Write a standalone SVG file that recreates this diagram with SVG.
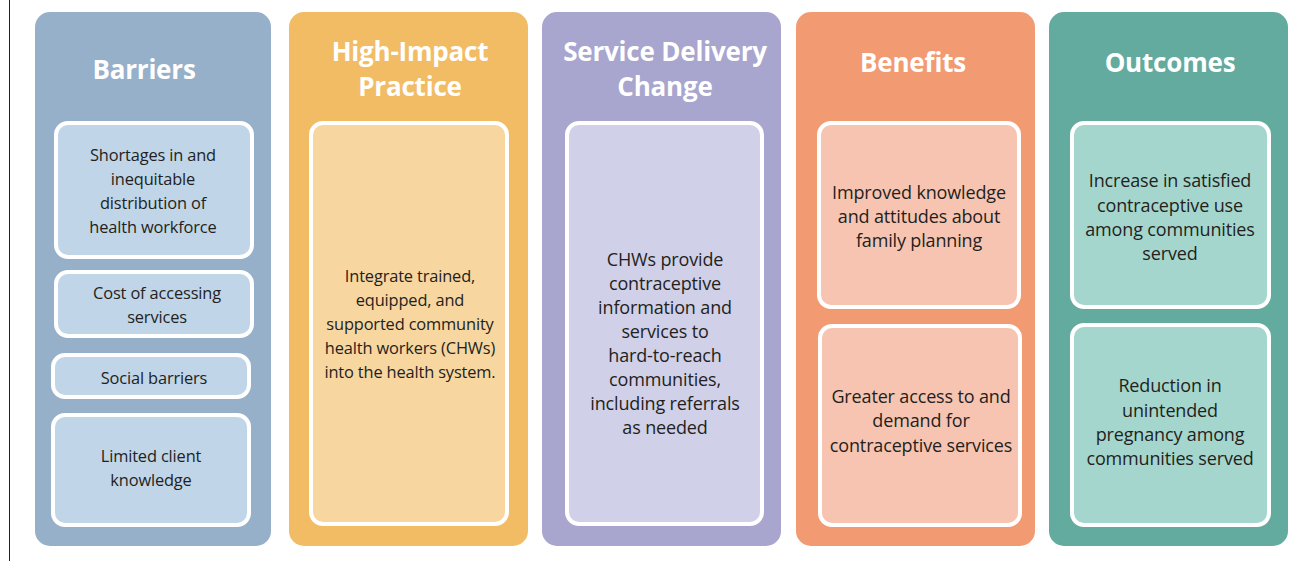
<svg xmlns="http://www.w3.org/2000/svg" width="1300" height="561" viewBox="0 0 1300 561">
<style>
.col{stroke:none}
.box{stroke:#ffffff;stroke-width:4}
.t{font-family:"Open Sans","Noto Sans",sans-serif;font-size:18px;fill:#231f20;text-anchor:middle;letter-spacing:-0.15px}
.s{font-size:16.4px}
.h{font-family:"Open Sans","Noto Sans",sans-serif;font-weight:bold;font-size:26px;fill:#ffffff;text-anchor:middle;letter-spacing:-0.2px}
</style>
<rect width="1300" height="561" fill="#ffffff"/>
<line x1="9.5" y1="0" x2="9.5" y2="561" stroke="#231f20" stroke-width="1"/>
<g id="col-barriers">
<rect class="col" x="35" y="12" width="236" height="534" rx="15" fill="#97b0c9"/>
<text class="h" x="144" y="79">Barriers</text>
<g id="barrier-1">
<rect class="box" x="56" y="123" width="196" height="134" rx="12" fill="#c0d5e8"/>
<text class="t s" x="153" y="161">Shortages in and</text>
<text class="t s" x="153" y="185">inequitable</text>
<text class="t s" x="153" y="209">distribution of</text>
<text class="t s" x="153" y="233">health workforce</text>
</g>
<g id="barrier-2">
<rect class="box" x="56" y="272" width="196" height="64" rx="12" fill="#c0d5e8"/>
<text class="t s" x="157" y="299">Cost of accessing</text>
<text class="t s" x="157" y="323">services</text>
</g>
<g id="barrier-3">
<rect class="box" x="53" y="355" width="196" height="42" rx="12" fill="#c0d5e8"/>
<text class="t s" x="154" y="384">Social barriers</text>
</g>
<g id="barrier-4">
<rect class="box" x="53" y="415" width="196" height="110" rx="12" fill="#c0d5e8"/>
<text class="t s" x="151" y="462">Limited client</text>
<text class="t s" x="151" y="486">knowledge</text>
</g>
</g>
<g id="col-hip">
<rect class="col" x="289" y="12" width="239" height="534" rx="15" fill="#f2bc65"/>
<text class="h" x="410" y="61">High-Impact</text>
<text class="h" x="410" y="96">Practice</text>
<g id="hip-1">
<rect class="box" x="311" y="123" width="196" height="401" rx="12" fill="#f8d6a0"/>
<text class="t s" x="410" y="282">Integrate trained,</text>
<text class="t s" x="410" y="306">equipped, and</text>
<text class="t s" x="410" y="330">supported community</text>
<text class="t s" x="410" y="354">health workers (CHWs)</text>
<text class="t s" x="410" y="378">into the health system.</text>
</g>
</g>
<g id="col-sdc">
<rect class="col" x="542" y="12" width="239" height="534" rx="15" fill="#a8a5ce"/>
<text class="h" x="665" y="61">Service Delivery</text>
<text class="h" x="665" y="96">Change</text>
<g id="sdc-1">
<rect class="box" x="567" y="123" width="195" height="401" rx="12" fill="#d0d0e8"/>
<text class="t" x="665" y="266">CHWs provide</text>
<text class="t" x="665" y="290">contraceptive</text>
<text class="t" x="665" y="314">information and</text>
<text class="t" x="665" y="338">services to</text>
<text class="t" x="665" y="362">hard-to-reach</text>
<text class="t" x="665" y="386">communities,</text>
<text class="t" x="665" y="410">including referrals</text>
<text class="t" x="665" y="434">as needed</text>
</g>
</g>
<g id="col-benefits">
<rect class="col" x="796" y="12" width="239" height="534" rx="15" fill="#f29b72"/>
<text class="h" x="913" y="72">Benefits</text>
<g id="benefit-1">
<rect class="box" x="819" y="123" width="200" height="184" rx="12" fill="#f7c4b2"/>
<text class="t" x="919" y="199">Improved knowledge</text>
<text class="t" x="919" y="223">and attitudes about</text>
<text class="t" x="919" y="247">family planning</text>
</g>
<g id="benefit-2">
<rect class="box" x="820" y="326" width="200" height="199" rx="12" fill="#f7c4b2"/>
<text class="t" x="921" y="403">Greater access to and</text>
<text class="t" x="921" y="427">demand for</text>
<text class="t" x="921" y="452">contraceptive services</text>
</g>
</g>
<g id="col-outcomes">
<rect class="col" x="1049" y="12" width="239" height="534" rx="15" fill="#63aa9f"/>
<text class="h" x="1170" y="72">Outcomes</text>
<g id="outcome-1">
<rect class="box" x="1072" y="123" width="197" height="184" rx="12" fill="#a5d6ce"/>
<text class="t" x="1170" y="187">Increase in satisfied</text>
<text class="t" x="1170" y="212">contraceptive use</text>
<text class="t" x="1170" y="236">among communities</text>
<text class="t" x="1170" y="260">served</text>
</g>
<g id="outcome-2">
<rect class="box" x="1072" y="325" width="197" height="200" rx="12" fill="#a5d6ce"/>
<text class="t" x="1170" y="392">Reduction in</text>
<text class="t" x="1170" y="417">unintended</text>
<text class="t" x="1170" y="441">pregnancy among</text>
<text class="t" x="1170" y="465">communities served</text>
</g>
</g>
<g id="connectors"></g>
</svg>
